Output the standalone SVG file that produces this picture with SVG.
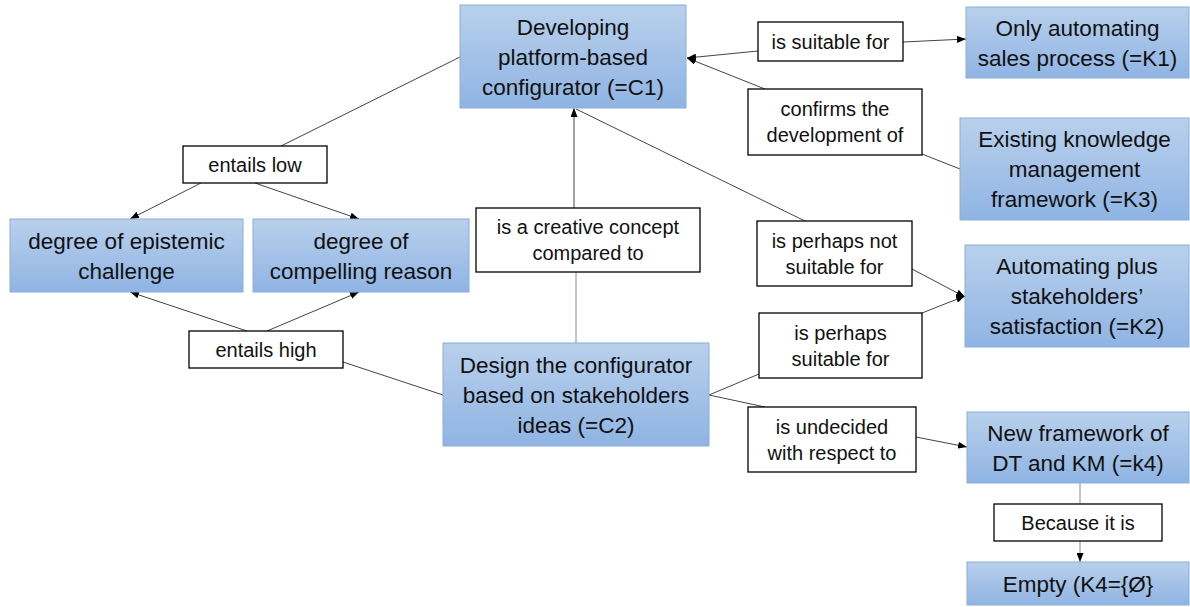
<svg xmlns="http://www.w3.org/2000/svg" width="1190" height="607" viewBox="0 0 1190 607">
<defs>
<linearGradient id="blue" x1="0" y1="0" x2="0" y2="1">
<stop offset="0" stop-color="#b9d0ec"/>
<stop offset="1" stop-color="#8fb4e3"/>
</linearGradient>
<marker id="arr" viewBox="0 0 9 7" refX="9" refY="3.5" markerWidth="9" markerHeight="7" markerUnits="userSpaceOnUse" orient="auto">
<path d="M0,0 L9,3.5 L0,7 z" fill="#000"/>
</marker>
<style>
.node rect{fill:url(#blue);stroke:#8aaed9;stroke-width:1}
.lab rect{fill:#fff;stroke:#000;stroke-width:1.3}
text{font-family:"Liberation Sans",Arial,sans-serif;fill:#111;text-anchor:middle}
.node text{font-size:22.5px}
.lab text{font-size:20px}
#connectors line{stroke:#444;stroke-width:1}
#connectors line.g{stroke:#888}
#connectors line.a{marker-end:url(#arr)}
</style>
</defs>
<rect width="1190" height="607" fill="#fff"/>
<g id="connectors">
<line x1="460" y1="57" x2="281" y2="146"/>
<line class="a" x1="201" y1="183" x2="130" y2="219"/>
<line class="a" x1="255" y1="183" x2="359" y2="219"/>
<line class="a" x1="247" y1="331" x2="130" y2="292"/>
<line class="a" x1="267" y1="331" x2="359" y2="292"/>
<line x1="443" y1="395" x2="343" y2="362"/>
<line class="g" x1="576" y1="343" x2="576" y2="272"/>
<line class="a" x1="574" y1="208" x2="574" y2="108"/>
<line class="a" x1="758" y1="51" x2="687" y2="58"/>
<line class="a" x1="903" y1="42" x2="966" y2="39"/>
<line class="a" x1="765" y1="89" x2="687" y2="58"/>
<line x1="960" y1="169" x2="922" y2="154"/>
<line x1="805" y1="221" x2="576" y2="109"/>
<line class="a" x1="912" y1="269" x2="965" y2="297"/>
<line x1="709" y1="395" x2="759" y2="374"/>
<line class="a" x1="922" y1="313" x2="965" y2="296"/>
<line x1="709" y1="395" x2="765" y2="407"/>
<line class="a" x1="916" y1="437" x2="967" y2="447"/>
<line class="g" x1="1080" y1="483" x2="1080" y2="504"/>
<line class="a g" x1="1080" y1="541" x2="1080" y2="562"/>
</g>
<g id="C1" class="node"><rect x="460" y="5" width="226" height="103"/>
<text x="573" y="34.5">Developing</text><text x="573" y="64.5">platform-based</text><text x="573" y="94.5">configurator (=C1)</text></g>
<g id="K1" class="node"><rect x="966" y="7" width="223" height="71"/>
<text x="1077.5" y="35.5">Only automating</text><text x="1077.5" y="65.5">sales process (=K1)</text></g>
<g id="K3" class="node"><rect x="960" y="118" width="229" height="102"/>
<text x="1074.5" y="147">Existing knowledge</text><text x="1074.5" y="177">management</text><text x="1074.5" y="207">framework (=K3)</text></g>
<g id="K2" class="node"><rect x="965" y="245" width="224" height="102"/>
<text x="1077" y="274">Automating plus</text><text x="1077" y="304">stakeholders’</text><text x="1077" y="334">satisfaction (=K2)</text></g>
<g id="K4" class="node"><rect x="967" y="412" width="222" height="71"/>
<text x="1078" y="440.5">New framework of</text><text x="1078" y="470.5">DT and KM (=k4)</text></g>
<g id="Empty" class="node"><rect x="967" y="562" width="222" height="43"/>
<text x="1078" y="592">Empty (K4={Ø}</text></g>
<g id="epistemic" class="node"><rect x="10" y="219" width="233" height="73"/>
<text x="126.5" y="248.5">degree of epistemic</text><text x="126.5" y="278.5">challenge</text></g>
<g id="compelling" class="node"><rect x="253" y="219" width="216" height="73"/>
<text x="361" y="248.5">degree of</text><text x="361" y="278.5">compelling reason</text></g>
<g id="C2" class="node"><rect x="443" y="343" width="266" height="103"/>
<text x="576" y="372.5">Design the configurator</text><text x="576" y="402.5">based on stakeholders</text><text x="576" y="432.5">ideas (=C2)</text></g>
<g id="L_low" class="lab"><rect x="183" y="146" width="144" height="37"/><text x="255" y="171.5">entails low</text></g>
<g id="L_high" class="lab"><rect x="189" y="331" width="154" height="37"/><text x="266" y="356.5">entails high</text></g>
<g id="L_creative" class="lab"><rect x="476" y="208" width="224" height="64"/><text x="588" y="234">is a creative concept</text><text x="588" y="260">compared to</text></g>
<g id="L_suitable" class="lab"><rect x="758" y="22" width="145" height="39"/><text x="830.5" y="48.5">is suitable for</text></g>
<g id="L_confirms" class="lab"><rect x="748" y="89" width="174" height="66"/><text x="835" y="116">confirms the</text><text x="835" y="142">development  of</text></g>
<g id="L_notsuitable" class="lab"><rect x="757" y="221" width="155" height="65"/><text x="834.5" y="247.5">is perhaps not</text><text x="834.5" y="273.5">suitable for</text></g>
<g id="L_perhaps" class="lab"><rect x="759" y="313" width="163" height="65"/><text x="840.5" y="339.5">is perhaps</text><text x="840.5" y="365.5">suitable for</text></g>
<g id="L_undecided" class="lab"><rect x="748" y="407" width="168" height="65"/><text x="832" y="433.5">is undecided</text><text x="832" y="459.5">with respect to</text></g>
<g id="L_because" class="lab"><rect x="994" y="504" width="168" height="37"/><text x="1078" y="529.5">Because it is</text></g>
</svg>
